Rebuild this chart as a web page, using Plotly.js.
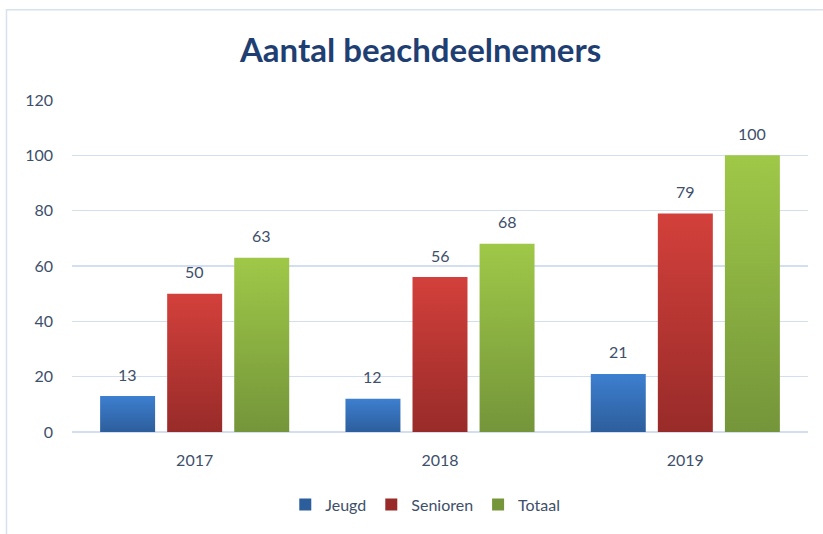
<!DOCTYPE html>
<html>
<head>
<meta charset="utf-8">
<script src="https://cdn.plot.ly/plotly-3.0.1.min.js"></script>
<style>
html,body{margin:0;padding:0;background:#fff;}
#chart{width:823px;height:534px;}
</style>
</head>
<body>
<div id="chart"></div>
<script>
const categories = ["2017", "2018", "2019"];
const seriesNames = ["Jeugd", "Senioren", "Totaal"];
const jeugd = [13, 12, 21];
const senioren = [50, 56, 79];
const totaal = [63, 68, 100];
const yTicks = [0, 20, 40, 60, 80, 100, 120];

const values = [jeugd, senioren, totaal];
const colors = ["#3570b8", "#bb3633", "#8bb040"];
const grads = [["#3d7fd0", "#2d5e9c"], ["#d3403b", "#982b29"], ["#9fc848", "#74953a"]];
const textColor = "#3e4f6b";
const font = "Lato, 'Open Sans', sans-serif";

const bargap = 0.18, bargroupgap = 0.18;
const slot = (1 - bargap) / 3;

const traces = values.map((v, i) => ({
  type: "bar",
  name: seriesNames[i],
  x: categories.map((c, k) => k),
  y: v,
  marker: {color: colors[i], line: {width: 0}},
  hoverinfo: "skip"
}));

const annotations = [];
values.forEach((v, i) => {
  v.forEach((val, k) => {
    annotations.push({
      x: k + (i - 1) * slot, y: val, xref: "x", yref: "y",
      text: String(val), showarrow: false, yshift: 22,
      font: {family: font, size: 16, color: textColor}
    });
  });
});

const layout = {
  width: 823, height: 534,
  margin: {l: 72, r: 15, t: 100, b: 100},
  paper_bgcolor: "#ffffff", plot_bgcolor: "#ffffff",
  title: {text: "<b>Aantal beachdeelnemers</b>", x: 0.511, xanchor: "center", y: 0.905, yanchor: "middle",
          font: {family: font, size: 33, color: "#1f3f73"}},
  barmode: "group", bargap: bargap, bargroupgap: bargroupgap,
  xaxis: {tickvals: [0, 1, 2], ticktext: categories, range: [-0.5, 2.5],
          showgrid: false, zeroline: false, showline: false, ticks: "",
          ticklabelstandoff: 17,
          tickfont: {family: font, size: 16, color: textColor}},
  yaxis: {range: [0, 120], tickvals: yTicks, showgrid: true, gridcolor: "#d3dff0", gridwidth: 1.5,
          zeroline: true, zerolinecolor: "#d3dff0", zerolinewidth: 1.5, showline: false, ticks: "",
          ticklabelstandoff: 18,
          tickfont: {family: font, size: 16, color: textColor}},
  showlegend: true,
  legend: {orientation: "h", x: 0.48, xanchor: "center", y: -0.219, yanchor: "middle",
           font: {family: font, size: 16, color: textColor}, itemwidth: 30, tracegroupgap: 0},
  annotations: annotations,
  shapes: [{type: "rect", xref: "paper", yref: "paper", x0: -0.089, x1: 1.3, y0: -1, y1: 1.272,
            line: {color: "#d9e1ec", width: 1.5}, fillcolor: "rgba(0,0,0,0)", layer: "below"}]
};

Plotly.newPlot("chart", traces, layout, {displayModeBar: false, staticPlot: true}).then(gd => {
  const svg = gd.querySelector("svg.main-svg");
  const ns = "http://www.w3.org/2000/svg";
  let defs = svg.querySelector("defs");
  if (!defs) { defs = document.createElementNS(ns, "defs"); svg.insertBefore(defs, svg.firstChild); }
  grads.forEach((g, i) => {
    const lg = document.createElementNS(ns, "linearGradient");
    lg.setAttribute("id", "barGrad" + i);
    lg.setAttribute("x1", "0"); lg.setAttribute("y1", "0");
    lg.setAttribute("x2", "0"); lg.setAttribute("y2", "1");
    [[0, g[0]], [1, g[1]]].forEach(([o, c]) => {
      const s = document.createElementNS(ns, "stop");
      s.setAttribute("offset", o); s.setAttribute("stop-color", c);
      lg.appendChild(s);
    });
    defs.appendChild(lg);
  });
  gd.querySelectorAll(".barlayer .trace").forEach((t, i) => {
    t.querySelectorAll("path").forEach(p => { p.style.fill = "url(#barGrad" + i + ")"; });
  });
  gd.querySelectorAll(".legend .traces").forEach((t, i) => {
    t.querySelectorAll("path").forEach(p => { p.style.fill = grads[i][1]; });
  });
});
</script>
</body>
</html>
